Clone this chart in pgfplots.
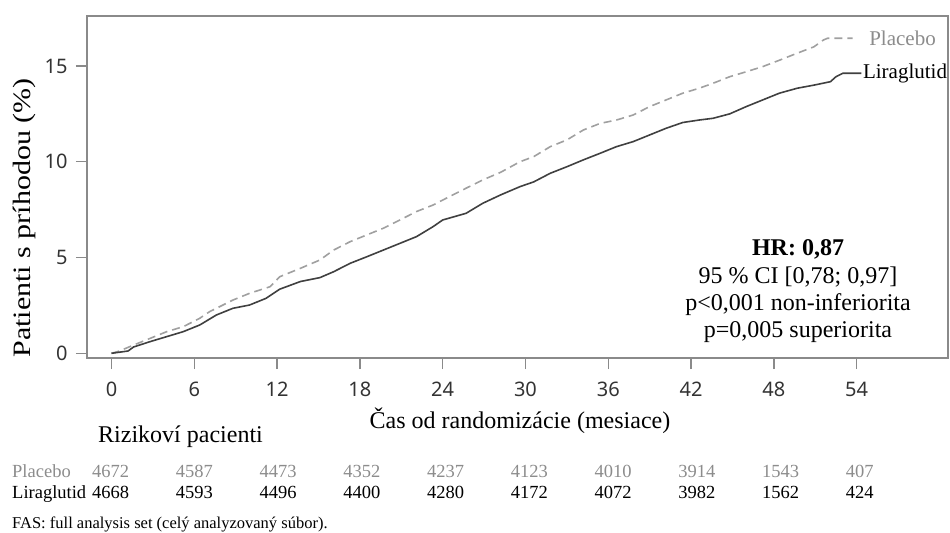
\documentclass[border=0pt]{standalone}
\usepackage{pgfplots}
\pgfplotsset{compat=1.18}
\usepackage{fontspec}
\setmainfont{Liberation Serif}
\newfontfamily\ticksans{Noto Sans}
\definecolor{axgray}{HTML}{8A8A8A}
\definecolor{tickc}{HTML}{333333}
\definecolor{liracol}{HTML}{404040}
\definecolor{placcol}{HTML}{A0A0A0}
\definecolor{plactext}{HTML}{8C8C8C}

\pgfplotstableread{
m v
0 0
0.5 0.05
1.2 0.12
1.6 0.33
2.8 0.61
4.0 0.87
5.2 1.13
6.4 1.48
7.6 2.0
8.8 2.35
10.0 2.52
11.2 2.87
12.2 3.35
13.7 3.75
15.1 3.95
16.1 4.26
17.3 4.7
18.5 5.04
19.7 5.39
20.9 5.74
22.1 6.09
23.3 6.61
24.0 6.96
25.7 7.31
26.9 7.83
28.2 8.27
29.6 8.7
30.6 8.95
31.8 9.4
33.0 9.74
34.2 10.1
35.4 10.44
36.6 10.79
37.8 11.05
39.0 11.4
40.2 11.75
41.4 12.05
42.6 12.18
43.6 12.27
44.8 12.5
46.0 12.88
47.2 13.23
48.4 13.58
49.7 13.84
50.9 14.0
52.1 14.18
52.5 14.44
53.0 14.62
54.35 14.62
}\lira

\pgfplotstableread{
m v
0 0
0.5 0.1
1.6 0.43
2.8 0.78
4.0 1.13
5.2 1.39
6.4 1.83
7.1 2.17
8.8 2.78
10.0 3.13
11.5 3.48
12.2 4.0
13.7 4.44
15.1 4.87
16.1 5.39
17.3 5.83
18.5 6.18
19.7 6.53
20.9 6.96
22.1 7.4
23.3 7.74
24.0 8.0
25.7 8.62
26.9 9.05
28.2 9.45
29.6 10.0
30.6 10.27
31.8 10.79
33.0 11.14
34.2 11.66
35.4 12.0
36.6 12.18
37.8 12.44
39.0 12.88
40.2 13.23
41.4 13.58
42.6 13.84
43.6 14.1
44.8 14.44
46.0 14.7
47.2 14.97
48.4 15.3
49.7 15.67
50.9 16.0
51.6 16.36
51.9 16.45
53.7 16.45
}\plac

\begin{document}
\begin{tikzpicture}
\path[use as bounding box] (0bp,0bp) rectangle (950bp,533bp);
\begin{axis}[
  at={(87bp,175bp)}, anchor=south west,
  scale only axis, width=861bp, height=342bp,
  xmin=-1.775, xmax=60.62, ymin=-0.245, ymax=17.61,
  axis line style={axgray, line width=1.3bp},
  tick style={axgray, line width=1.3bp},
  major tick length=11bp, tick align=outside, tick pos=left,
  xtick={0,6,...,54}, ytick={0,5,10,15},
  ticklabel style={font=\fontsize{20bp}{24bp}\ticksans, text=tickc},
  xticklabel style={yshift=-9bp, text height=14.5bp, text depth=0bp},
  yticklabel style={xshift=-5bp},
  /pgf/number format/assume math mode=true,
  clip=false,
]
\addplot[placcol, line width=1.6bp, dash pattern=on 8bp off 5bp] table[x=m,y=v] {\plac};
\addplot[liracol, line width=1.6bp] table[x=m,y=v] {\lira};
\node[anchor=west, inner sep=0pt, text=plactext, font=\fontsize{21bp}{25bp}\selectfont] at (axis cs:54.9,16.45) {Placebo};
\node[anchor=west, inner sep=0pt, font=\fontsize{21bp}{25bp}\selectfont] at (axis cs:54.45,14.62) {Liraglutid};
\end{axis}

% annotation
\begin{scope}[every node/.style={anchor=base, inner sep=0pt, font=\fontsize{24bp}{28bp}\selectfont}]
\node at (798bp,277bp) {\textbf{HR: 0,87}};
\node at (798bp,249bp) {95 \% CI [0,78; 0,97]};
\node at (798bp,222bp) {p<0,001 non-inferiorita};
\node at (798bp,195bp) {p=0,005 superiorita};
\end{scope}

% axis labels
\node[rotate=90, inner sep=0pt] at (24bp,315bp) {\scalebox{1.2}[1]{\fontsize{25bp}{30bp}\selectfont Patienti s príhodou (\%)}};
\node[anchor=base, inner sep=0pt, font=\fontsize{24bp}{28bp}\selectfont] at (520bp,104bp) {Čas od randomizácie (mesiace)};

% risk table
\node[anchor=base west, inner sep=0pt, font=\fontsize{24bp}{28bp}\selectfont] at (98bp,90bp) {Rizikoví pacienti};
\begin{scope}[every node/.style={anchor=base west, inner sep=0pt, font=\fontsize{18.5bp}{22bp}\selectfont}]
\node[text=plactext] at (12bp,55bp) {Placebo};
\node at (12bp,35bp) {Liraglutid};
\foreach \n [count=\i from 0] in {4672,4587,4473,4352,4237,4123,4010,3914,1543,407}
  \node[text=plactext] at ({(92+83.74*\i)*1bp},55bp) {\n};
\foreach \n [count=\i from 0] in {4668,4593,4496,4400,4280,4172,4072,3982,1562,424}
  \node at ({(92+83.74*\i)*1bp},35bp) {\n};
\end{scope}

\node[anchor=base west, inner sep=0pt, font=\fontsize{16.5bp}{20bp}\selectfont] at (12bp,4.5bp) {FAS: full analysis set (celý analyzovaný súbor).};
\end{tikzpicture}
\end{document}
